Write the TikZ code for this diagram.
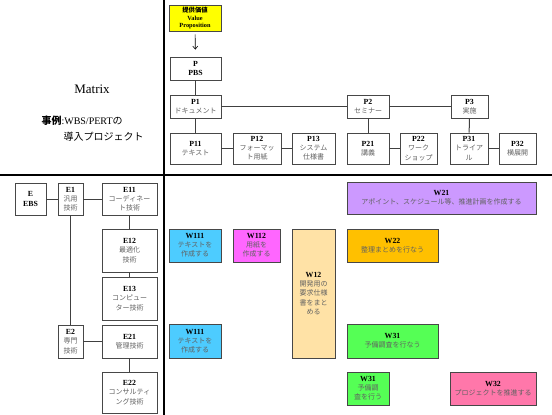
\documentclass[tikz,border=0pt]{standalone}
\usepackage{fontspec}
\setmainfont{Liberation Serif}
\newfontfamily\jp{Noto Sans CJK JP}
\usetikzlibrary{shadows,arrows.meta}
\definecolor{vpY}{HTML}{FFFF00}
\definecolor{wCyan}{HTML}{4DCCFF}
\definecolor{wMag}{HTML}{FF66FF}
\definecolor{wTan}{HTML}{FFE2A6}
\definecolor{wLav}{HTML}{CC99FF}
\definecolor{wOrg}{HTML}{FFC000}
\definecolor{wGrn}{HTML}{55FF55}
\definecolor{wPnk}{HTML}{FF77AA}
\tikzset{
  box/.style={draw=black!72, line width=0.8pt, fill=white, inner sep=1pt, align=center,
    font=\fontsize{7}{9.2}\selectfont, text=black!62,
    drop shadow={shadow xshift=1.3pt, shadow yshift=-1.3pt, fill=black!28, opacity=1}},
  conn/.style={draw=black!75, line width=1pt},
  axis/.style={draw=black, line width=2pt},
}
\newcommand{\ttl}[1]{{\fontsize{7.8}{9.2}\selectfont\bfseries\color{black}#1}}
\begin{document}
\begin{tikzpicture}[x=1pt,y=-1pt]
\useasboundingbox (0,0) rectangle (552,415);
% axes
\coordinate (vtop) at (163.5,0);
\coordinate (vbot) at (163.5,415);
\coordinate (hl) at (0,175);
\coordinate (hr) at (552,175);
\draw[axis] (vtop) -- (vbot);
\draw[axis] (hl) -- (hr);
% title
\node[font=\fontsize{13}{15}\selectfont] (mtx) at (92,89) {Matrix};
\node[anchor=west, font=\fontsize{10}{12}\selectfont] (ex1) at (38,121) {{\jp\bfseries 事例}:WBS/PERT{\jp の}};
\node[anchor=west, font=\fontsize{10}{12}\selectfont] (ex2) at (60,137) {\jp 導入プロジェクト};
% PBS
\node[box, fill=vpY, minimum width=52, minimum height=26, font=\fontsize{6.3}{7.2}\selectfont, text=black] (vp) at (195,18) {{\jp\bfseries 提供価値}\\\bfseries Value\\\bfseries Proposition};
\node[box, minimum width=51, minimum height=23] (p) at (195.5,68.5) {\ttl{P}\\\ttl{PBS}};
\node[box, minimum width=51, minimum height=23] (p1) at (195.5,106.5) {\ttl{P1}\\{\jp ドキュメント}};
\node[box, minimum width=51, minimum height=31] (p11) at (195.5,148.5) {\ttl{P11}\\{\jp テキスト}};
\node[box, minimum width=48, minimum height=31] (p12) at (257,148.5) {\ttl{P12}\\{\jp フォーマッ}\\{\jp ト用紙}};
\node[box, minimum width=43, minimum height=31] (p13) at (313.5,148.5) {\ttl{P13}\\{\jp システム}\\{\jp 仕様書}};
\node[box, minimum width=42, minimum height=23] (p2) at (368,106.5) {\ttl{P2}\\{\jp セミナー}};
\node[box, minimum width=37, minimum height=23] (p3) at (469.5,106.5) {\ttl{P3}\\{\jp 実施}};
\node[box, minimum width=42, minimum height=31] (p21) at (368,148.5) {\ttl{P21}\\{\jp 講義}};
\node[box, minimum width=37, minimum height=31] (p22) at (418.5,148.5) {\ttl{P22}\\{\jp ワーク}\\{\jp ショップ}};
\node[box, minimum width=38, minimum height=31] (p31) at (469,148.5) {\ttl{P31}\\{\jp トライア}\\{\jp ル}};
\node[box, minimum width=37, minimum height=31] (p32) at (517.5,148.5) {\ttl{P32}\\{\jp 横展開}};
\draw[-{Straight Barb[length=3pt,width=5pt]}, line width=0.6pt, shorten <=3pt, shorten >=7pt] (vp) -- (p);
\draw[conn] (p) -- (p1);
\draw[conn] (p1) -- (p11);
\draw[conn] (p1) -- (p2);
\draw[conn] (p2) -- (p3);
\draw[conn] (p11) -- (p12);
\draw[conn] (p12) -- (p13);
\draw[conn] (p2) -- (p21);
\draw[conn] (p3) -- (p31);
\draw[conn] (p21) -- (p22);
\draw[conn] (p31) -- (p32);
% EBS
\node[box, minimum width=31, minimum height=32, text=black] (e) at (30.5,199) {\ttl{E}\\\ttl{EBS}};
\node[box, minimum width=25, minimum height=32] (e1) at (70.5,199) {\ttl{E1}\\{\jp 汎用}\\{\jp 技術}};
\node[box, minimum width=55, minimum height=32] (e11) at (129.5,199) {\ttl{E11}\\{\jp コーディネー}\\{\jp ト技術}};
\node[box, minimum width=55, minimum height=43] (e12) at (129.5,250.5) {\ttl{E12}\\{\jp 最適化}\\{\jp 技術}};
\node[box, minimum width=55, minimum height=43] (e13) at (129.5,298.5) {\ttl{E13}\\{\jp コンピュー}\\{\jp ター技術}};
\node[box, minimum width=25, minimum height=33] (e2) at (70.5,341.5) {\ttl{E2}\\{\jp 専門}\\{\jp 技術}};
\node[box, minimum width=55, minimum height=33] (e21) at (129.5,341.5) {\ttl{E21}\\{\jp 管理技術}};
\node[box, minimum width=55, minimum height=41] (e22) at (129.5,392.5) {\ttl{E22}\\{\jp コンサルティ}\\{\jp ング技術}};
\draw[conn] (e) -- (e1);
\draw[conn] (e1) -- (e11);
\draw[conn] (e1) -- (e2);
\draw[conn] (e11) -- (e12);
\draw[conn] (e12) -- (e13);
\draw[conn] (e2) -- (e21);
\draw[conn] (e21) -- (e22);
% WBS
\node[box, fill=wCyan, minimum width=52, minimum height=33] (w111a) at (195,245.5) {\ttl{W111}\\{\jp テキストを}\\{\jp 作成する}};
\node[box, fill=wMag, minimum width=47, minimum height=33] (w112) at (256.5,245.5) {\ttl{W112}\\{\jp 用紙を}\\{\jp 作成する}};
\node[box, fill=wTan, minimum width=43, minimum height=129] (w12) at (313.5,293.5) {\ttl{W12}\\{\jp 開発用の}\\{\jp 要求仕様}\\{\jp 書をまと}\\{\jp める}};
\node[box, fill=wCyan, minimum width=52, minimum height=34] (w111b) at (195,341) {\ttl{W111}\\{\jp テキストを}\\{\jp 作成する}};
\node[box, fill=wLav, minimum width=189, minimum height=32] (w21) at (441.5,198) {\ttl{W21}\\{\jp アポイント、スケジュール等、推進計画を作成する}};
\node[box, fill=wOrg, minimum width=91, minimum height=33] (w22) at (392.5,245.5) {\ttl{W22}\\{\jp 整理まとめを行なう}};
\node[box, fill=wGrn, minimum width=91, minimum height=34] (w31a) at (392.5,341) {\ttl{W31}\\{\jp 予備調査を行なう}};
\node[box, fill=wGrn, minimum width=42, minimum height=33] (w31b) at (368,388.5) {\ttl{W31}\\{\jp 予備調}\\{\jp 査を行う}};
\node[box, fill=wPnk, minimum width=86, minimum height=33] (w32) at (493,388.5) {\ttl{W32}\\{\jp プロジェクトを推進する}};
\end{tikzpicture}
\end{document}
